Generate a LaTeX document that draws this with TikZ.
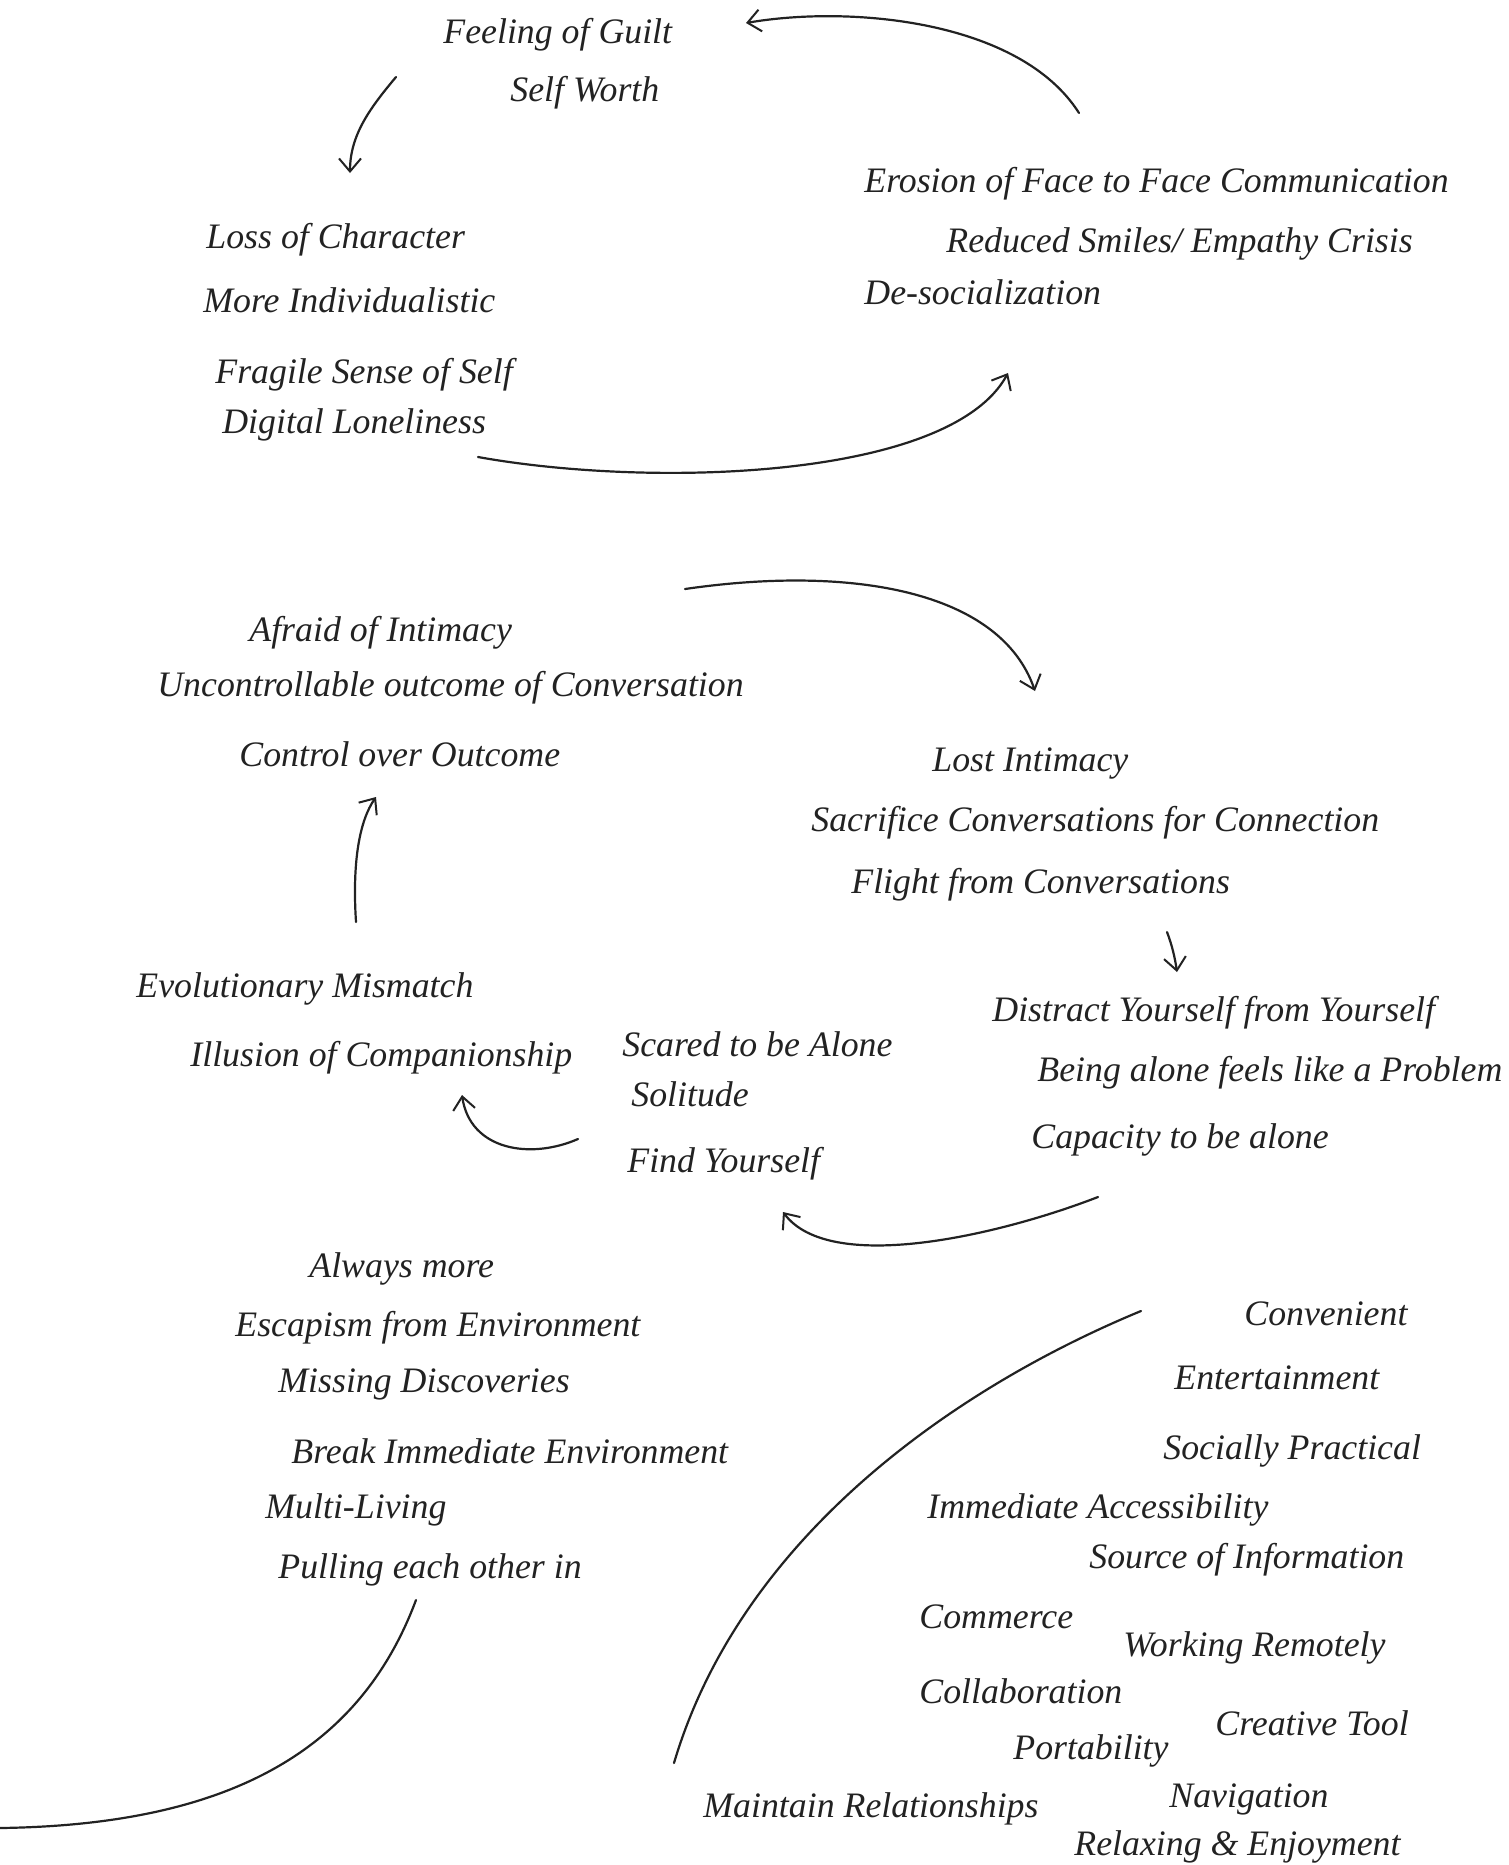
\documentclass[tikz,border=0pt]{standalone}
\usepackage{fontspec}
\setmainfont{Liberation Serif}
\usetikzlibrary{arrows.meta}
\definecolor{ink}{HTML}{222222}
\tikzset{
  lbl/.style={anchor=base west, inner sep=0pt, text=ink,
              font=\fontsize{17.9}{20}\selectfont\itshape},
  flow/.style={draw=ink, line width=1.1pt, line cap=round,
               -{Straight Barb[length=6.5pt,width=11pt,line width=1pt]}},
  sweep/.style={draw=ink, line width=1.1pt, line cap=round}
}
\begin{document}
\begin{tikzpicture}[x=0.5pt,y=-0.5pt]
\useasboundingbox (0,0) rectangle (1509,1865);
\fill[white] (0,0) rectangle (1509,1865);

% ---- upper cycle ----
\node[lbl] (guilt)   at (443,43)   {Feeling of Guilt};
\node[lbl] (worth)   at (510,101)  {Self Worth};
\node[lbl] (erosion) at (864,192)  {Erosion of Face to Face Communication};
\node[lbl] (reduced) at (946,252)  {Reduced Smiles/ Empathy Crisis};
\node[lbl] (desoc)   at (864,304)  {De-socialization};
\node[lbl] (loss)    at (206,248)  {Loss of Character};
\node[lbl] (indiv)   at (203,312)  {More Individualistic};
\node[lbl] (fragile) at (215,383)  {Fragile Sense of Self};
\node[lbl] (digital) at (222,433)  {Digital Loneliness};

% ---- middle cycle ----
\node[lbl] (afraid)    at (249,641)  {Afraid of Intimacy};
\node[lbl] (uncontrol) at (157,696)  {Uncontrollable outcome of Conversation};
\node[lbl] (control)   at (239,766)  {Control over Outcome};
\node[lbl] (lost)      at (932,771)  {Lost Intimacy};
\node[lbl] (sacrifice) at (811,831)  {Sacrifice Conversations for Connection};
\node[lbl] (flight)    at (851,893)  {Flight from Conversations};
\node[lbl] (evol)      at (136,997)  {Evolutionary Mismatch};
\node[lbl] (illusion)  at (190,1066) {Illusion of Companionship};
\node[lbl] (scared)    at (622,1056) {Scared to be Alone};
\node[lbl] (solitude)  at (631,1106) {Solitude};
\node[lbl] (find)      at (627,1172) {Find Yourself};
\node[lbl] (distract)  at (992,1021) {Distract Yourself from Yourself};
\node[lbl] (being)     at (1037,1081){Being alone feels like a Problem};
\node[lbl] (capacity)  at (1031,1148){Capacity to be alone};

% ---- lower left ----
\node[lbl] (always)   at (309,1277) {Always more};
\node[lbl] (escapism) at (235,1336) {Escapism from Environment};
\node[lbl] (missing)  at (278,1392) {Missing Discoveries};
\node[lbl] (break)    at (291,1463) {Break Immediate Environment};
\node[lbl] (multi)    at (265,1518) {Multi-Living};
\node[lbl] (pulling)  at (278,1578) {Pulling each other in};

% ---- lower right ----
\node[lbl] (convenient) at (1244,1325) {Convenient};
\node[lbl] (entertain)  at (1174,1389) {Entertainment};
\node[lbl] (socially)   at (1163,1459) {Socially Practical};
\node[lbl] (immediate)  at (927,1518)  {Immediate Accessibility};
\node[lbl] (source)     at (1089,1568) {Source of Information};
\node[lbl] (commerce)   at (919,1628)  {Commerce};
\node[lbl] (working)    at (1123,1656) {Working Remotely};
\node[lbl] (collab)     at (919,1703)  {Collaboration};
\node[lbl] (creative)   at (1215,1735) {Creative Tool};
\node[lbl] (portab)     at (1013,1759) {Portability};
\node[lbl] (navig)      at (1169,1807) {Navigation};
\node[lbl] (maintain)   at (703,1817)  {Maintain Relationships};
\node[lbl] (relax)      at (1074,1855) {Relaxing \& Enjoyment};

% ---- connector ends ----
\coordinate (a1s) at (1079,113);  \coordinate (a1e) at (746,23);
\coordinate (a2s) at (396,77);    \coordinate (a2e) at (350,173);
\coordinate (a3s) at (478,457);   \coordinate (a3e) at (1008,373);
\coordinate (a4s) at (685,589);   \coordinate (a4e) at (1035,691);
\coordinate (a5s) at (356,922);   \coordinate (a5e) at (376,797);
\coordinate (a6s) at (1167,932);  \coordinate (a6e) at (1177,972);
\coordinate (a7s) at (1098,1197); \coordinate (a7e) at (783,1212);
\coordinate (a8s) at (578,1139);  \coordinate (a8e) at (462,1095);
\coordinate (c1s) at (416,1600);  \coordinate (c1e) at (0,1828);
\coordinate (c2s) at (674,1763);  \coordinate (c2e) at (1141,1311);

% ---- arrows ----
\draw[flow] (a1s) .. controls (1020,20) and (850,5) .. (a1e);
\draw[flow] (a2s) .. controls (370,108) and (350,135) .. (a2e);
\draw[flow] (a3s) .. controls (650,488) and (950,480) .. (a3e);
\draw[flow] (a4s) .. controls (850,565) and (1000,590) .. (a4e);
\draw[flow] (a5s) .. controls (352,860) and (360,820) .. (a5e);
\draw[flow] (a6s) .. controls (1172,945) and (1175,958) .. (a6e);
\draw[flow] (a7s) .. controls (1000,1235) and (830,1275) .. (a7e);
\draw[flow] (a8s) .. controls (530,1160) and (470,1150) .. (a8e);

% ---- open sweeps ----
\draw[sweep] (c1s) .. controls (360,1750) and (230,1825) .. (c1e);
\draw[sweep] (c2s) .. controls (740,1540) and (950,1390) .. (c2e);
\end{tikzpicture}
\end{document}
